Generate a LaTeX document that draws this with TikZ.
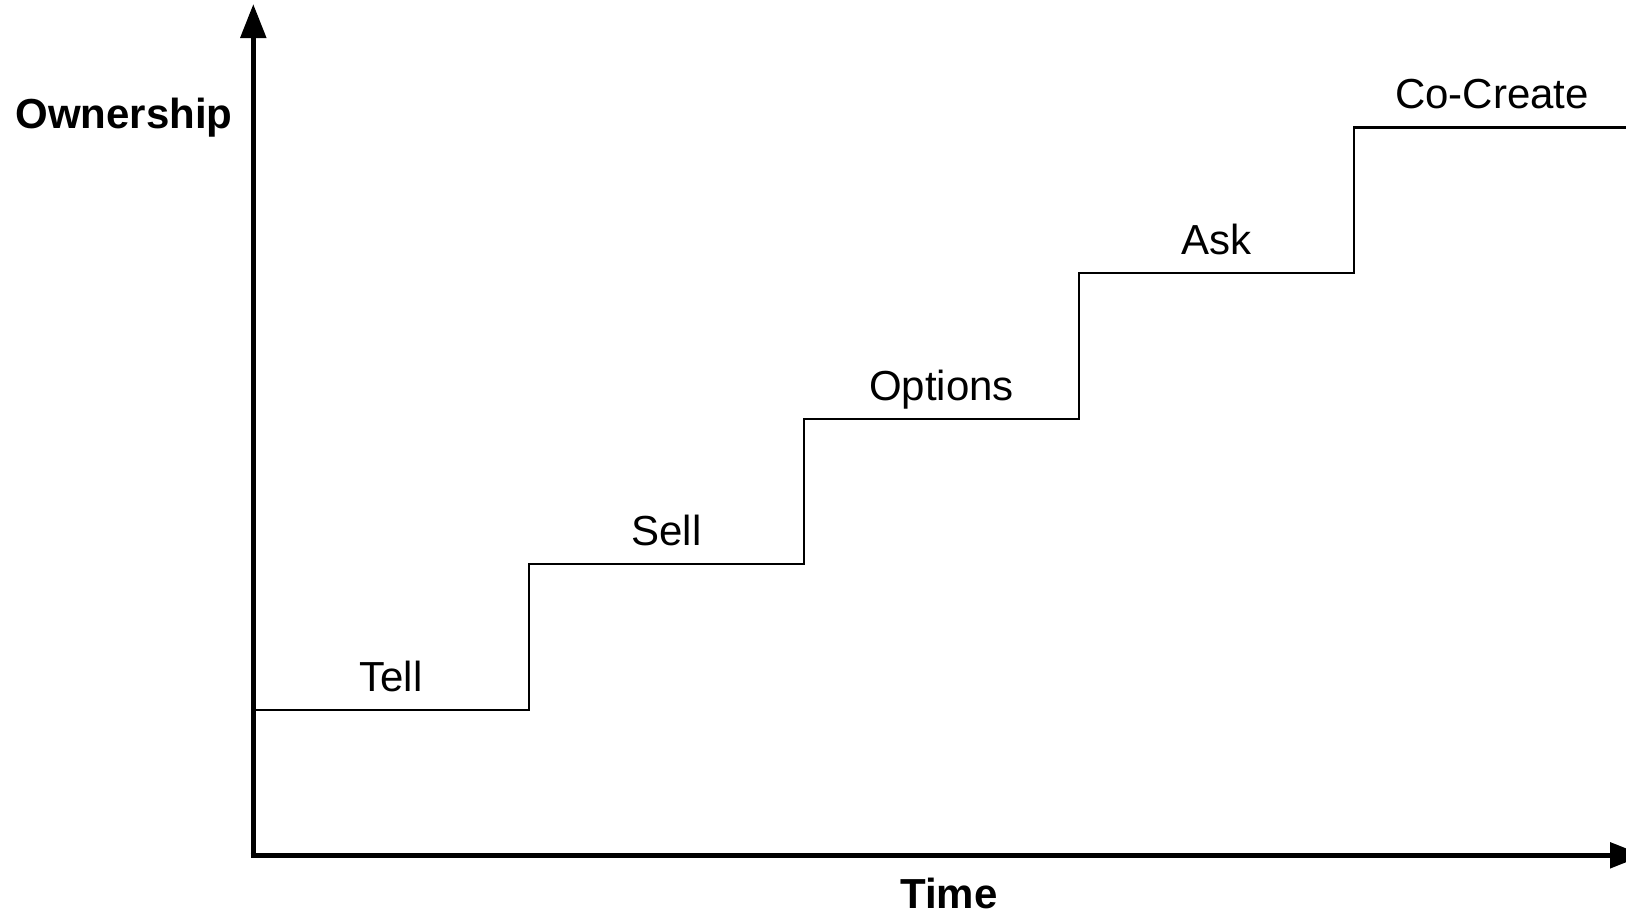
\documentclass[tikz,border=0pt]{standalone}
\usepackage{fontspec}
\setmainfont{Liberation Sans}
\usetikzlibrary{arrows.meta}
\tikzset{
  axisline/.style={line width=5.3pt, -{Triangle[length=34pt,width=25pt]}},
  stepline/.style={line width=2.6pt, line join=miter},
  steplabel/.style={anchor=base, inner sep=0pt, font=\fontsize{42}{50}\selectfont},
  axislabel/.style={anchor=base, inner sep=0pt, font=\fontsize{42}{50}\selectfont\bfseries}
}
\begin{document}
\begin{tikzpicture}[x=1pt,y=-1pt]
\useasboundingbox (0,0) rectangle (1626,914);
% axes
\coordinate (origin) at (253.3,855.3);
\coordinate (ytop) at (253.3,4);
\coordinate (xend) at (1644,855.3);
\draw[axisline] ([yshift=-2.65pt]origin) -- (ytop);
\draw[axisline] ([xshift=-2.65pt]origin) -- (xend);
% steps
\coordinate (s0) at (253.3,710);
\coordinate (s1) at (529,710);
\coordinate (s2) at (529,564);
\coordinate (s3) at (804,564);
\coordinate (s4) at (804,419);
\coordinate (s5) at (1079,419);
\coordinate (s6) at (1079,273);
\coordinate (s7) at (1354,273);
\coordinate (s8) at (1354,127.5);
\coordinate (s9) at (1640,127.5);
\draw[stepline] (s0) -- (s1) -- (s2) -- (s3) -- (s4) -- (s5) -- (s6) -- (s7) -- (s8) -- (s9);
% labels
\node[steplabel] (tell) at (391,691) {Tell};
\node[steplabel] (sell) at (666.5,545) {Sell};
\node[steplabel] (options) at (941.5,400) {Options};
\node[steplabel] (ask) at (1216.5,254) {Ask};
\node[steplabel] (cocreate) at (1492,108.5) {Co-Create};
\node[axislabel] (own) at (124,128.5) {Ownership};
\node[axislabel] (time) at (949,908) {Time};
\end{tikzpicture}
\end{document}
